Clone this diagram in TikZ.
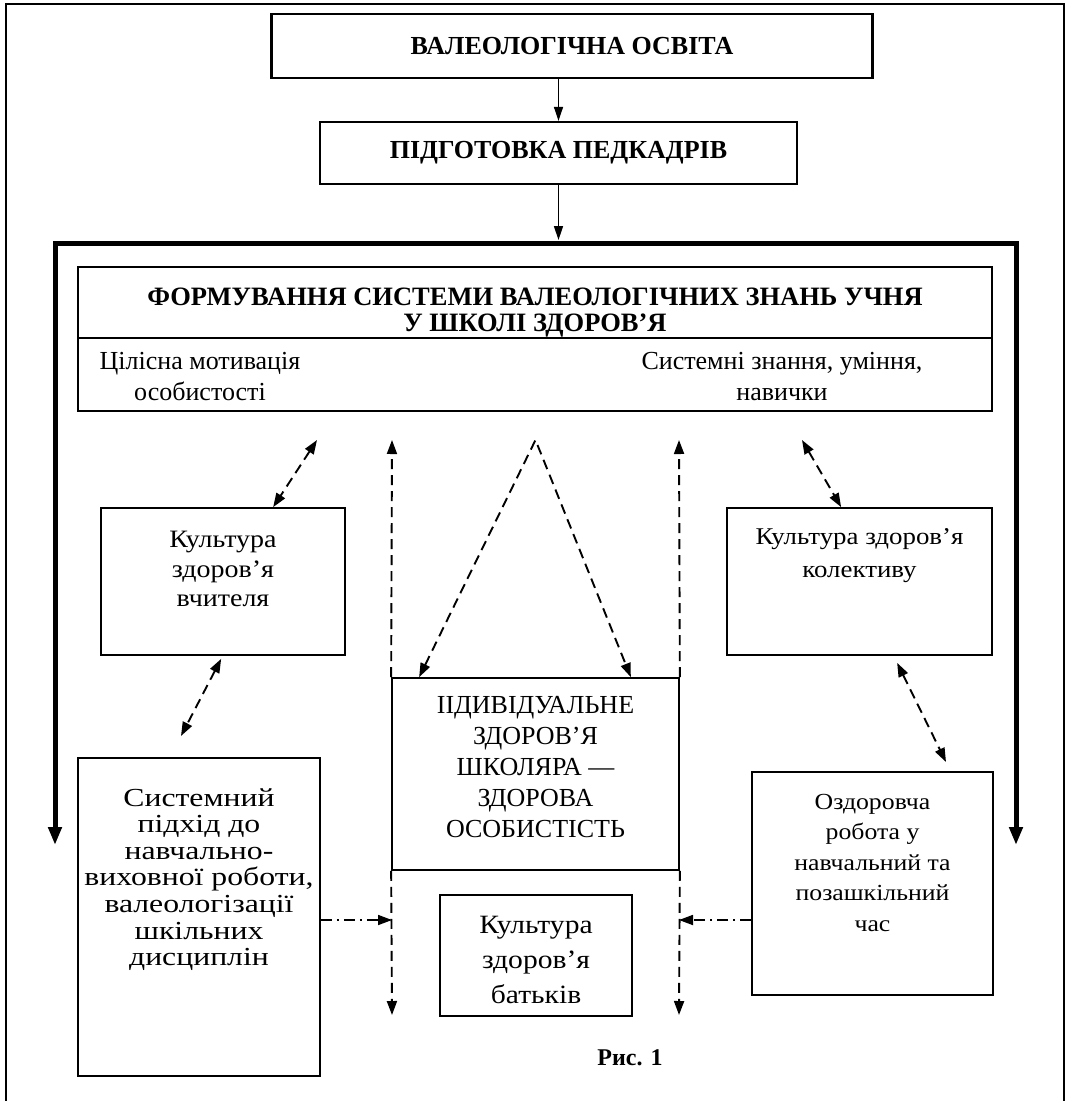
\documentclass[tikz,border=0pt]{standalone}
\usepackage{fontspec}
\setmainfont{Liberation Serif}
\newfontfamily\wserif[FakeStretch=1.12]{Liberation Serif}
\newfontfamily\xwserif[FakeStretch=1.22]{Liberation Serif}
\usetikzlibrary{arrows.meta,calc}
\begin{document}
\begin{tikzpicture}[x=1pt,y=-1pt,
  box/.style={draw,line width=1.7pt,inner sep=0pt},
  tbox/.style={draw,line width=2.2pt,inner sep=0pt,font=\fontsize{26}{30}\selectfont\bfseries},
  wtxt/.style 2 args={align=center,inner sep=0pt,font=\wserif\fontsize{#1}{#2}\selectfont},
  ctxt/.style={align=center,inner sep=0pt,font=\fontsize{26}{31}\selectfont},
  btxt/.style={align=center,inner sep=0pt,font=\fontsize{26.5}{26}\selectfont\bfseries},
  sarr/.style={line width=1.5pt,-{Triangle[length=14pt,width=9pt]}},
  dsh/.style={line width=1.9pt,dash pattern=on 10pt off 6pt},
  ddot/.style={line width=1.7pt,dash pattern=on 11pt off 5pt on 2pt off 5pt},
  onetip/.style={-{Triangle[length=14pt,width=10pt]}},
  twotip/.style={{Triangle[length=14pt,width=10pt]}-{Triangle[length=14pt,width=10pt]}},
  framearr/.style={line width=5pt,line join=miter,{Triangle[length=18pt,width=13pt]}-{Triangle[length=18pt,width=13pt]}}
]
\useasboundingbox (0,0) rectangle (1066,1101);
\fill[white] (0,0) rectangle (1066,1101);
% outer thin frame
\draw[line width=1.5pt] (6,1101) -- (6,4) -- (1064,4) -- (1064,1101);

% top boxes
\node[tbox, minimum width=601pt, minimum height=64pt] (v1) at (572,46) {ВАЛЕОЛОГІЧНА ОСВІТА};
\node[tbox, minimum width=477pt, minimum height=62pt] (v2) at (558.5,153) {ПІДГОТОВКА ПЕДКАДРІВ};
\draw[sarr] (v1.south -| v2.north) -- (v2.north);
\coordinate (ftop) at (558.5,240);
\draw[sarr] (v2.south) -- (ftop);

% thick frame with arrows
\coordinate (fl) at (55,845);
\coordinate (fr) at (1016,845);
\draw[framearr] (fl) -- (55,243) -- (1016,243) -- (fr);

% inner knowledge box
\node[box, minimum width=914pt, minimum height=144pt] (form) at (535,339) {};
\draw[line width=1.7pt] (form.west |- 0,338) -- (form.east |- 0,338);
\node[btxt] (hdr) at (535,313) {ФОРМУВАННЯ СИСТЕМИ ВАЛЕОЛОГІЧНИХ ЗНАНЬ УЧНЯ\\У ШКОЛІ ЗДОРОВ’Я};
\node[ctxt] (mot) at (200,377) {Цілісна мотивація\\особистості};
\node[ctxt] (skl) at (782,377) {Системні знання, уміння,\\навички};

% culture boxes
\node[box, minimum width=244pt, minimum height=147pt] (teach) at (223,581.5) {};
\node[wtxt={25}{29.5}, anchor=north] (teacht) at (223,531) {Культура\\здоров’я\\вчителя};
\node[box, minimum width=265pt, minimum height=147pt] (kol) at (859.5,581.5) {};
\node[wtxt={24}{33}, anchor=north] (kolt) at (859.5,528) {Культура здоров’я\\колективу};

% central box
\node[box, minimum width=287pt, minimum height=192pt] (ind) at (535.5,774) {};
\node[ctxt] (indt) at (535.5,767) {ІІДИВІДУАЛЬНЕ\\ЗДОРОВ’Я\\ШКОЛЯРА —\\ЗДОРОВА\\ОСОБИСТІСТЬ};

% lower boxes
\node[box, minimum width=242pt, minimum height=318pt] (sys) at (199,917) {};
\node[align=center, inner sep=0pt, font=\xwserif\fontsize{26}{26.6}\selectfont, anchor=north] (syst) at (199,788) {Системний\\підхід до\\навчально-\\виховної роботи,\\валеологізації\\шкільних\\дисциплін};
\node[box, minimum width=241pt, minimum height=223pt] (ozd) at (872.5,883.5) {};
\node[wtxt={23}{30.5}, anchor=north] (ozdt) at (872.5,794) {Оздоровча\\робота у\\навчальний та\\позашкільний\\час};
\node[box, minimum width=192pt, minimum height=121pt] (par) at (536,955.5) {};
\node[wtxt={26.4}{35}] (part) at (536,960) {Культура\\здоров’я\\батьків};

\node[inner sep=0pt, font=\fontsize{24}{28}\selectfont\bfseries] (fig) at (630,1058) {Рис. 1};

% dashed connectors
\coordinate (a1) at (317,440);
\draw[dsh,twotip] (a1) -- ([xshift=173pt]teach.north west);
\coordinate (a2) at (181,736);
\draw[dsh,twotip] ([xshift=121pt,yshift=-3pt]teach.south west) -- (a2);
\coordinate (a3) at (802,440);
\draw[dsh,twotip] (a3) -- ([xshift=115pt]kol.north west);
\coordinate (a4) at (946,762);
\draw[dsh,twotip] ([xshift=171pt,yshift=-7pt]kol.south west) -- (a4);

\coordinate (apex) at (535.5,440);
\draw[dsh,twotip,line join=miter] ([xshift=28pt]ind.north west) -- (apex) -- ([xshift=-49pt]ind.north east);

\coordinate (lu) at (392,440);
\coordinate (ru) at (679,440);
\draw[dsh,onetip] (ind.north west) -- (lu);
\draw[dsh,onetip] (ind.north east) -- (ru);
\coordinate (ld) at (392,1015);
\coordinate (rd) at (679,1015);
\draw[dsh,onetip] (ind.south west) -- (ld);
\draw[dsh,onetip] (ind.south east) -- (rd);

% dash-dot connectors
\coordinate (lm) at (392,920);
\coordinate (rm) at (679,920);
\draw[ddot,onetip] (sys.east |- lm) -- (lm);
\draw[ddot,onetip] (ozd.west |- rm) -- (rm);
\end{tikzpicture}
\end{document}
